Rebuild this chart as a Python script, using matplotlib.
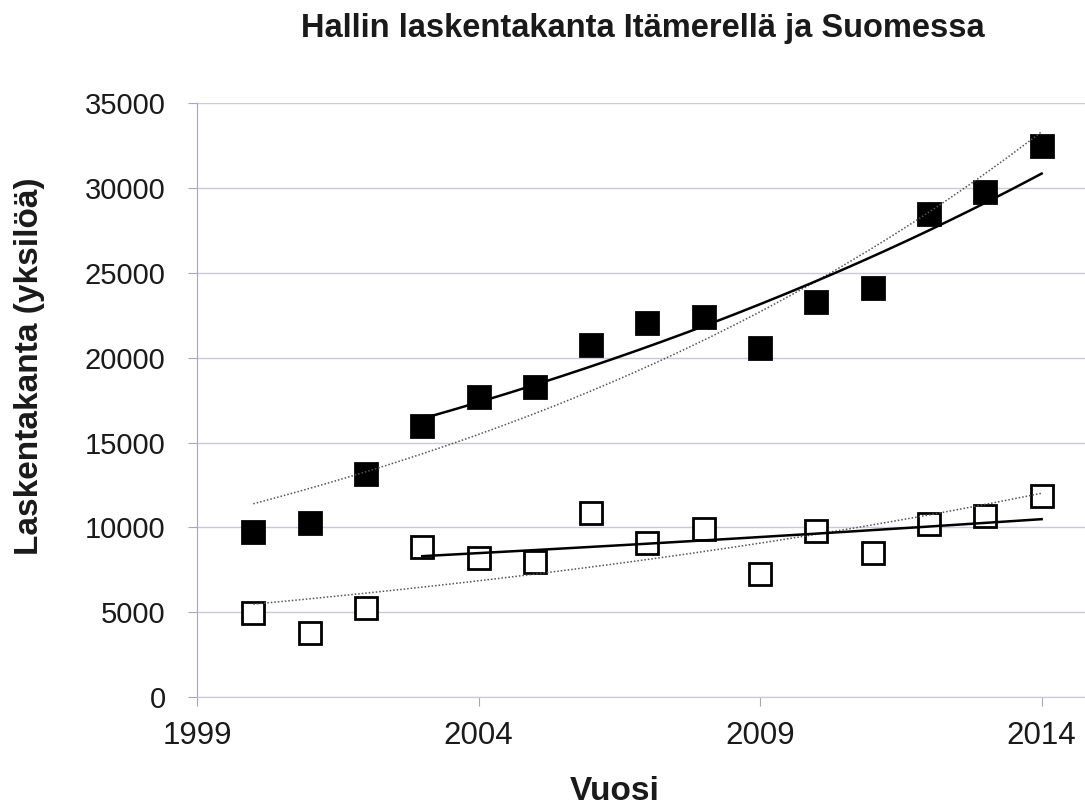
import numpy as np
import matplotlib
matplotlib.use("Agg")
import matplotlib.pyplot as plt

# ---- data ----
years = [2000, 2001, 2002, 2003, 2004, 2005, 2006, 2007, 2008, 2009, 2010, 2011, 2012, 2013, 2014]
itameri = [9750, 10250, 13150, 15950, 17700, 18300, 20750, 22050, 22400, 20600, 23300, 24100, 28450, 29750, 32500]
suomi = [4970, 3800, 5230, 8850, 8180, 7950, 10830, 9060, 9890, 7250, 9790, 8510, 10200, 10670, 11850]
trend_start_sub = 2003  # solid trend lines cover 2003-2014

title = "Hallin laskentakanta Itämerellä ja Suomessa"
xlabel = "Vuosi"
ylabel = "Laskentakanta (yksilöä)"
xticks = [1999, 2004, 2009, 2014]
yticks = [0, 5000, 10000, 15000, 20000, 25000, 30000, 35000]

plt.rcParams['font.family'] = ['Liberation Sans', 'DejaVu Sans']

W, H = 1085, 805
fig = plt.figure(figsize=(W / 100, H / 100), dpi=100)
ax = fig.add_axes([197 / W, 1 - 697 / H, (W - 197) / W, (697 - 103.3) / H])

x = np.array(years, dtype=float)


def exp_trend(xs, ys):
    xs = np.asarray(xs, float)
    ys = np.asarray(ys, float)
    b, a = np.polyfit(xs, np.log(ys), 1)
    xx = np.linspace(xs.min(), xs.max(), 200)
    return xx, np.exp(a + b * xx)


grid_col = "#cbc8da"
for series, face in [(itameri, "black"), (suomi, "white")]:
    y = np.array(series, float)
    ax.plot(x, y, linestyle="none", marker="s", markersize=15.5,
            markerfacecolor=face, markeredgecolor="black", markeredgewidth=2.0, zorder=3)
    xx, yy = exp_trend(x, y)
    ax.plot(xx, yy, color="#555555", lw=1.1, linestyle=(0, (1, 1.3)), zorder=4)
    m = x >= trend_start_sub
    xx, yy = exp_trend(x[m], y[m])
    ax.plot(xx, yy, color="black", lw=1.8, zorder=4)

ax.set_xlim(1999, 2014.77)
ax.set_ylim(0, 35000)
ax.set_xticks(xticks)
ax.set_yticks(yticks)
ax.yaxis.grid(True, color=grid_col, lw=1.0)
ax.set_axisbelow(True)
for s in ["top", "right"]:
    ax.spines[s].set_visible(False)
ax.spines["left"].set_color("#a9a5c0")
ax.spines["bottom"].set_color(grid_col)
ax.tick_params(axis="both", direction="out", length=6.5, color="#a9a5c0",
               labelcolor="#1a1a1a")
ax.tick_params(axis="y", pad=16, labelsize=21)
ax.tick_params(axis="x", pad=11, labelsize=22.5)

fig.text(615 / W, 1 - 800 / H, xlabel, ha="center", va="baseline",
         fontsize=24, fontweight="bold", color="#1a1a1a")
fig.text(38 / W, 1 - 366 / H, ylabel, ha="center", va="baseline", rotation=90,
         rotation_mode="anchor", fontsize=24, fontweight="bold", color="#1a1a1a")
fig.text(643 / W, 1 - 37 / H, title, ha="center", va="baseline",
         fontsize=23.5, fontweight="bold", color="#1a1a1a")

fig.savefig("out.png", dpi=100)
